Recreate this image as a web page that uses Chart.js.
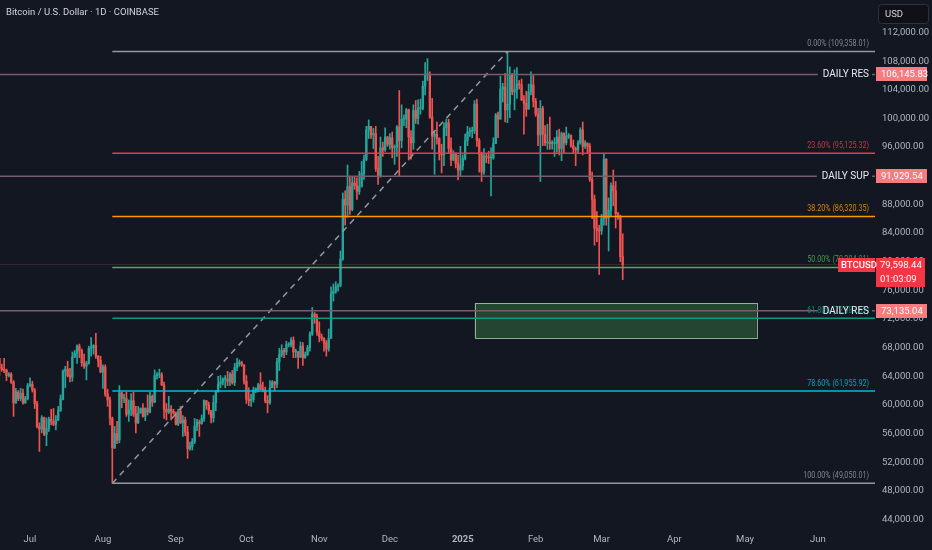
<!DOCTYPE html>
<html>
<head>
<meta charset="utf-8">
<script src="https://cdn.jsdelivr.net/npm/chart.js@4.4.1/dist/chart.umd.min.js"></script>
<style>
html,body{margin:0;padding:0;background:#131722;overflow:hidden;}
#wrap{position:relative;width:932px;height:550px;}
canvas{display:block;}
</style>
</head>
<body>
<div id="wrap"><canvas id="c"></canvas></div>
<script>
// ---------------- DATA ----------------
// day index: 0 = 2024-06-17; first candle = day 1 (2024-06-18), one candle per day
const firstDay = 1;
const firstOpen = 66.5; // thousand USD
// daily closes (thousand USD) Jun 18 2024 .. Mar 10 2025
const closes = [
  65.2,64.95,64.85,64.1,64.3,63.2,60.3,61.8,60.9,61.6,60.3,60.9,62.7,
  62.9,62.1,60.2,57.0,56.6,58.2,55.9,56.7,58.0,57.7,57.3,57.9,59.2,60.8,64.7,65.0,64.1,63.9,66.7,67.2,68.2,67.6,65.9,65.4,65.8,67.9,68.0,68.3,66.8,66.2,64.6,
  65.3,61.5,60.7,58.1,54.0,56.0,55.1,61.7,60.9,60.9,58.7,59.4,60.6,58.7,57.5,58.9,59.5,58.4,59.5,59.0,61.2,60.4,64.1,64.2,64.2,62.8,59.4,59.0,59.4,59.1,58.9,
  57.3,59.1,57.5,57.9,56.2,53.9,54.2,54.9,57.0,57.6,57.4,58.1,60.6,60.0,59.2,58.2,60.3,61.8,62.9,63.2,63.6,63.6,63.3,64.3,63.1,65.2,65.8,65.9,65.6,63.3,
  60.8,60.6,60.75,62.1,62.1,62.8,62.2,62.1,60.6,60.3,62.4,63.2,62.9,66.0,67.0,67.6,67.4,68.4,68.4,69.0,67.4,67.4,66.7,68.2,66.6,67.0,68.0,69.9,72.7,72.3,70.2,
  69.5,69.3,68.7,67.8,69.3,75.6,75.9,76.5,76.7,80.4,88.7,87.9,90.5,87.3,91.0,90.6,89.8,90.5,92.3,94.3,98.4,98.9,97.7,97.9,93.0,91.9,95.9,95.6,97.4,96.4,
  97.3,95.9,96.0,98.8,96.9,99.9,99.9,101.2,97.4,96.6,101.1,100.0,101.4,101.4,104.5,106.1,106.1,100.2,97.5,97.8,97.2,95.2,94.9,98.7,99.4,95.8,94.2,95.1,93.7,92.8,93.4,
  94.4,96.9,98.1,98.2,98.3,102.0,96.9,95.0,92.5,94.7,94.6,94.5,94.5,96.5,100.5,99.9,104.1,104.4,101.2,102.0,106.1,103.7,104.0,104.8,104.7,102.6,102.1,101.3,103.7,104.7,102.4,
  100.6,97.7,101.4,97.8,96.6,96.6,96.5,96.5,96.5,97.4,95.8,97.9,96.6,97.5,97.6,96.2,95.8,95.6,96.6,98.4,96.1,96.6,96.1,91.5,88.7,84.7,84.4,84.3,
  86.0,94.3,86.1,87.2,90.6,89.9,86.7,86.2,80.7,79.59844
];
const highs = [
  66.5,65.7,66.5,65.0,64.5,64.5,63.4,62.3,62.0,62.3,62.2,61.2,63.0,
  63.8,63.3,62.3,60.5,57.5,58.5,58.3,58.2,58.3,59.4,59.5,58.5,59.8,61.4,64.9,65.4,66.1,65.1,67.4,67.6,68.4,68.5,67.8,67.1,66.1,68.2,69.4,68.4,70.0,66.9,66.8,
  65.6,65.6,62.2,61.1,58.3,57.0,57.7,62.7,61.8,61.5,61.8,60.7,61.6,61.8,59.8,59.8,59.6,60.2,59.6,61.4,61.8,61.4,64.9,64.5,65.0,64.5,63.2,60.2,61.2,59.9,59.4,
  59.0,59.4,59.8,58.5,58.3,57.0,54.8,55.3,58.1,58.0,57.9,58.6,60.7,60.6,60.4,59.2,61.3,62.0,64.0,64.1,63.8,64.1,64.7,64.5,64.8,65.8,66.5,66.3,66.1,65.6,
  64.1,62.4,61.5,62.5,62.4,63.0,64.5,63.2,62.5,61.3,63.4,63.4,63.3,66.5,67.9,68.4,67.9,68.9,68.7,69.4,69.5,67.8,67.5,68.8,68.7,67.4,68.3,70.2,73.6,72.9,72.7,
  71.6,69.9,69.4,69.0,70.6,76.5,76.9,77.2,76.9,81.5,89.6,89.9,93.5,91.8,91.9,91.8,91.7,92.6,94.0,94.9,98.9,99.8,98.8,98.6,98.9,94.7,97.4,96.7,98.7,97.5,
  97.9,98.1,96.3,99.0,103.9,101.9,100.5,101.4,101.3,98.3,101.9,102.5,102.6,102.7,105.2,107.8,108.35,106.5,102.8,98.1,99.5,97.3,96.4,99.4,99.9,99.9,97.3,95.5,95.2,94.9,96.1,
  94.9,97.8,98.9,98.7,98.8,102.5,102.7,97.2,95.3,95.8,95.0,95.4,95.9,97.3,100.7,100.9,105.9,104.9,106.3,109.358,107.2,106.3,106.8,107.1,105.3,105.5,103.2,103.8,104.8,106.5,106.0,
  102.8,101.4,102.5,101.7,99.0,99.2,100.2,96.9,97.3,98.3,98.5,98.1,98.0,98.8,97.9,97.7,97.0,96.0,96.9,98.7,99.5,96.9,96.5,96.5,92.5,89.3,87.0,85.1,
  86.6,95.0,94.4,88.9,91.0,92.8,91.2,86.9,86.5,83.9
];
const lows = [
  64.1,64.7,64.5,63.4,63.9,63.0,58.4,60.2,60.6,60.6,60.1,60.2,60.7,
  62.5,61.8,59.5,56.8,53.5,56.1,55.7,54.3,56.3,57.2,57.1,56.5,57.8,59.1,60.7,62.4,63.9,63.2,63.3,66.6,65.8,66.6,65.4,65.1,63.5,65.7,66.8,67.1,66.5,65.3,64.5,
  62.3,61.2,59.8,57.2,49.05,53.9,54.6,54.7,59.6,60.3,58.4,57.7,58.5,58.4,56.1,57.4,58.8,58.3,57.8,58.6,58.9,59.8,60.3,63.6,63.8,62.7,58.1,57.9,58.8,57.9,58.7,
  57.2,57.1,57.4,55.6,55.7,52.55,53.7,53.7,54.6,56.4,55.6,57.3,57.7,59.4,58.7,57.5,57.6,59.2,61.8,62.4,62.8,62.4,62.7,62.7,62.9,62.7,64.8,65.4,65.4,62.9,
  60.2,59.9,59.8,60.4,61.7,61.8,62.1,61.8,60.3,58.9,60.1,62.4,62.0,62.4,64.8,66.7,66.6,67.0,68.1,68.1,66.6,66.6,65.1,66.6,65.5,66.5,66.9,67.5,69.7,71.4,69.7,
  68.8,69.0,67.5,66.8,67.5,69.3,74.5,75.6,75.9,76.5,80.2,85.1,86.2,86.6,87.1,90.1,88.7,89.4,90.4,91.5,94.1,97.2,97.2,95.8,92.6,90.8,91.8,94.7,95.4,96.1,
  95.7,94.5,93.6,94.7,92.0,95.9,99.0,98.7,94.2,94.3,95.7,99.3,99.2,100.6,101.2,103.3,105.3,100.0,95.7,92.2,96.4,94.2,92.4,93.4,97.6,95.2,93.4,94.1,93.1,91.4,92.0,
  92.8,94.2,96.2,97.5,97.3,97.9,96.1,92.5,91.2,92.2,93.8,93.7,89.2,94.3,96.5,97.3,99.9,102.3,99.5,99.4,100.1,103.3,101.2,102.8,104.1,102.5,97.8,100.3,101.3,103.3,101.6,
  100.3,96.2,91.2,96.2,96.2,95.7,95.7,95.7,94.7,95.3,94.9,94.1,95.2,96.3,97.2,96.0,95.2,93.4,95.2,96.4,94.9,95.8,95.1,91.2,86.0,82.3,82.8,78.2,
  83.8,85.1,85.1,81.5,86.3,87.8,84.7,85.9,80.0,77.5
];
const UNIT = 1000;

// time axis (day index of the 1st of each month)
const monthTickDays = [14,45,76,106,137,167,198,229,257,288,318,349];
const monthTickLabels = ['Jul','Aug','Sep','Oct','Nov','Dec','2025','Feb','Mar','Apr','May','Jun'];
const xMin = 1.245, xMax = 373.26;

// price axis
const yTicks = [44000,48000,52000,56000,60000,64000,68000,72000,76000,80000,84000,88000,92000,96000,100000,104000,108000,112000];
const yMin = 42816, yMax = 116538;

// fibonacci retracement (Aug 5 low -> Jan 20 high)
const fibLevels = [0, 23.6, 38.2, 50, 61.8, 78.6, 100];
const fibPrices = [109358.01, 95125.32, 86320.35, 79204.01, 72087.67, 61955.92, 49050.01];
const fibColors = ['#9598a1','#f23645','#ff9800','#4caf50','#089981','#00bcd4','#9598a1'];
const fibStartDay = 49, fibEndDay = 217;

// horizontal key levels
const levelNames = ['DAILY RES','DAILY SUP','DAILY RES'];
const levelPrices = [106145.83, 91929.54, 73135.04];

// last price
const lastPrice = 79598.44;
const countdown = '01:03:09';
const symbol = 'BTCUSD';

// target zone rectangle
const zoneDays = [203, 323];
const zonePrices = [74230, 69340];

const title = 'Bitcoin / U.S. Dollar · 1D · COINBASE';

// ---------------- BUILD ----------------
const BG = '#131722';
const UP = '#26a69a', DN = '#ef5350';
const n = Math.min(closes.length, highs.length, lows.length);
const opens = [], cols = [], wickData = [], bodyData = [];
for (let i = 0; i < n; i++) {
  const d = firstDay + i;
  const o = i === 0 ? firstOpen : closes[i - 1];
  const c = closes[i];
  opens.push(o);
  cols.push(c >= o ? UP : DN);
  wickData.push({x: d, y: [lows[i] * UNIT, highs[i] * UNIT]});
  bodyData.push({x: d, y: [o * UNIT, c * UNIT]});
}
const fmt2 = v => v.toLocaleString('en-US', {minimumFractionDigits: 2, maximumFractionDigits: 2});

const lineDs = (pts, color, width, dash, order) => ({
  type: 'line', data: pts, borderColor: color, borderWidth: width, borderDash: dash || [],
  pointRadius: 0, pointHoverRadius: 0, tension: 0, fill: false, order: order
});

const datasets = [];
datasets.push(lineDs([{x: -20, y: lastPrice}, {x: 400, y: lastPrice}], '#3a2b36', 1, [], 5));
levelPrices.forEach(p => datasets.push(lineDs([{x: -20, y: p}, {x: 400, y: p}], '#7a5d6c', 1.5, [], 1)));
fibPrices.forEach((p, i) => datasets.push(lineDs([{x: fibStartDay, y: p}, {x: 400, y: p}], fibColors[i], 1.5, [], 1)));
datasets.push(lineDs([{x: fibStartDay, y: fibPrices[6]}, {x: fibEndDay, y: fibPrices[0]}], '#9598a1', 1.5, [6, 5], 1));
datasets.push({type: 'bar', data: wickData, backgroundColor: cols, borderWidth: 0, barThickness: 1, grouped: false, order: 4});
datasets.push({type: 'bar', data: bodyData, backgroundColor: cols, borderWidth: 0, barThickness: 1.7, minBarLength: 1, grouped: false, order: 3});

// draw text horizontally condensed (the reference type is narrow)
function narrowText(c, text, x, y, sx) {
  c.save(); c.translate(x, y); c.scale(sx, 1); c.fillText(text, 0, 0); c.restore();
}

const overlay = {
  id: 'overlay',
  beforeDraw(chart) {
    const c = chart.ctx;
    c.save(); c.fillStyle = BG; c.fillRect(0, 0, chart.width, chart.height); c.restore();
  },
  beforeDatasetsDraw(chart) {
    const c = chart.ctx, xs = chart.scales.x, ys = chart.scales.y;
    const x0 = xs.getPixelForValue(zoneDays[0]), x1 = xs.getPixelForValue(zoneDays[1]);
    const y0 = ys.getPixelForValue(zonePrices[0]), y1 = ys.getPixelForValue(zonePrices[1]);
    c.save();
    c.fillStyle = 'rgba(76,175,80,0.30)';
    c.fillRect(x0, y0, x1 - x0, y1 - y0);
    c.strokeStyle = 'rgba(190,215,190,0.75)'; c.lineWidth = 1;
    c.strokeRect(Math.round(x0) + 0.5, Math.round(y0) + 0.5, Math.round(x1 - x0), Math.round(y1 - y0));
    c.restore();
  },
  afterDatasetsDraw(chart) {
    const c = chart.ctx, ys = chart.scales.y, area = chart.chartArea;
    const rx = area.right - 6;
    c.save();
    c.font = '10px Roboto';
    levelPrices.forEach((p, i) => {
      const y = ys.getPixelForValue(p);
      const w = c.measureText(levelNames[i]).width;
      c.fillStyle = BG;
      c.fillRect(rx - w - 5, y - 2, w + 8, 4);
    });
    c.font = '9px Roboto';
    c.textAlign = 'right'; c.textBaseline = 'alphabetic';
    fibPrices.forEach((p, i) => {
      const y = ys.getPixelForValue(p);
      c.globalAlpha = 0.85;
      c.fillStyle = fibColors[i];
      narrowText(c, fibLevels[i].toFixed(2) + '% (' + fmt2(p) + ')', rx, y - 5, 0.8);
    });
    c.globalAlpha = 1;
    c.font = '10px Roboto';
    c.fillStyle = '#e6e8ee'; c.textBaseline = 'middle';
    levelPrices.forEach((p, i) => {
      const y = ys.getPixelForValue(p);
      c.fillText(levelNames[i], rx, y + 0.5);
    });
    c.restore();
  },
  afterDraw(chart) {
    const c = chart.ctx, ys = chart.scales.y, area = chart.chartArea;
    c.save();
    c.font = '9.5px Roboto'; c.fillStyle = '#d1d4dc';
    c.textAlign = 'left'; c.textBaseline = 'middle';
    c.fillText(title, 6, 13);
    c.fillStyle = '#0f1117'; c.strokeStyle = '#2e323d'; c.lineWidth = 1;
    c.beginPath(); c.roundRect(878.5, 4.5, 50, 19, 3); c.fill(); c.stroke();
    c.fillStyle = '#d1d4dc'; c.font = '9.5px Roboto';
    c.fillText('USD', 885, 14.5);
    const tx = area.right + 1;
    levelPrices.forEach(p => {
      const y = ys.getPixelForValue(p);
      c.fillStyle = '#f77c80';
      c.fillRect(tx, Math.round(y) - 7, 51, 14);
      c.fillStyle = '#ffffff'; c.font = '9.5px Roboto';
      c.fillText(fmt2(p), tx + 5, Math.round(y) + 0.5);
    });
    const ly = Math.round(ys.getPixelForValue(lastPrice));
    c.fillStyle = '#f23645';
    c.fillRect(tx - 38, ly - 7, 37, 14);
    c.fillRect(tx, ly - 7, 49, 29);
    c.fillStyle = '#ffffff';
    c.font = '500 9.5px Roboto';
    c.fillText(symbol, tx - 35, ly + 0.5);
    c.font = '9.5px Roboto';
    c.fillText(fmt2(lastPrice), tx + 4, ly + 0.5);
    c.fillText(countdown, tx + 4, ly + 14.5);
    c.restore();
  }
};

new Chart(document.getElementById('c'), {
  type: 'bar',
  data: {datasets},
  options: {
    responsive: true,
    maintainAspectRatio: false,
    animation: false,
    events: [],
    layout: {padding: 0},
    plugins: {legend: {display: false}, tooltip: {enabled: false}, title: {display: false}},
    scales: {
      x: {
        type: 'linear', min: xMin, max: xMax, offset: false,
        grid: {display: false, drawTicks: false}, border: {display: false},
        afterBuildTicks: s => { s.ticks = monthTickDays.map(v => ({value: v})); },
        afterFit: s => { s.height = 22; s.paddingLeft = 0; s.paddingRight = 0; s.paddingTop = 0; s.paddingBottom = 0; },
        ticks: {
          autoSkip: false, maxRotation: 0, padding: 6, color: '#b2b5be',
          font: ctx => ({family: 'Roboto', size: 9.5, weight: (ctx.tick && ctx.tick.value === 198) ? 'bold' : 'normal'}),
          callback: (v, i) => monthTickLabels[i]
        }
      },
      y: {
        type: 'linear', position: 'right', min: yMin, max: yMax,
        grid: {display: false, drawTicks: false}, border: {display: false},
        afterBuildTicks: s => { s.ticks = yTicks.map(v => ({value: v})); },
        afterFit: s => { s.width = 57; s.paddingTop = 0; s.paddingBottom = 0; s.paddingLeft = 0; s.paddingRight = 0; },
        ticks: {
          padding: 7, color: '#b2b5be', crossAlign: 'near',
          font: {family: 'Roboto', size: 9.5},
          callback: v => fmt2(v)
        }
      }
    }
  },
  plugins: [overlay]
});
</script>
</body>
</html>
